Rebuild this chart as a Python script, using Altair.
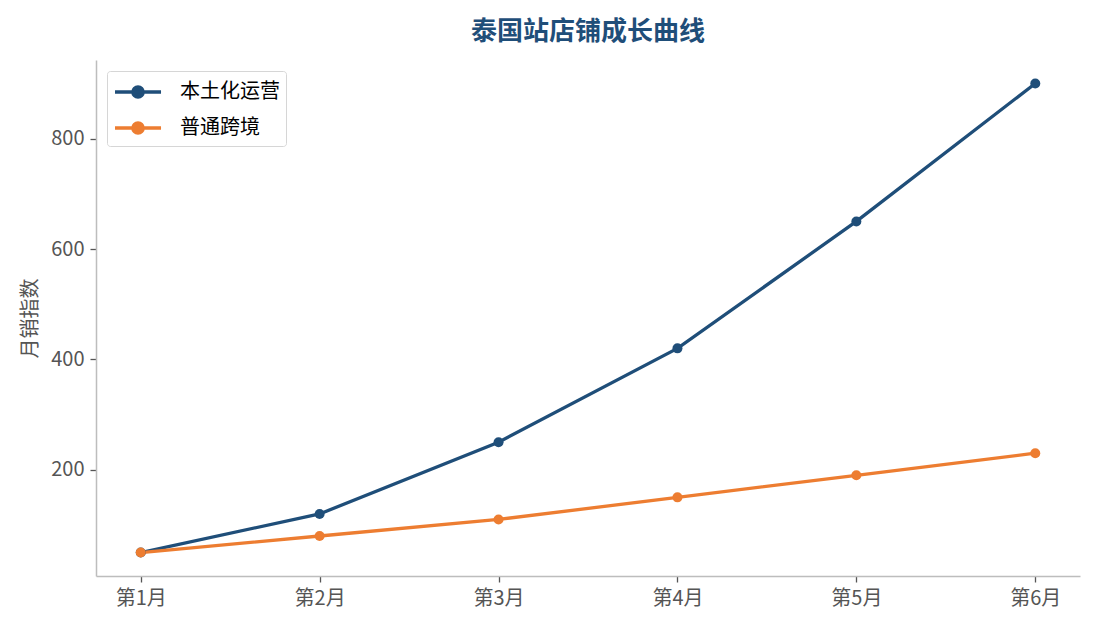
import pandas as pd
import altair as alt

# Chart data
months = ["第1月", "第2月", "第3月", "第4月", "第5月", "第6月"]
local_ops = [50, 120, 250, 420, 650, 900]
cross_border = [50, 80, 110, 150, 190, 230]
series_names = ["本土化运营", "普通跨境"]
series_colors = ["#1f4e79", "#ed7d31"]

df = pd.DataFrame({
    "month": months * 2,
    "value": local_ops + cross_border,
    "series": [series_names[0]] * len(months) + [series_names[1]] * len(months),
})

font = "Noto Sans CJK SC"

# legend symbol: a line with a dot in the middle
legend_symbol = (
    "M-1,0H2.54"
    "M0.37,0A0.4,0.4,0,1,1,1.17,0A0.4,0.4,0,1,1,0.37,0Z"
)

color = alt.Color(
    "series:N",
    scale=alt.Scale(domain=series_names, range=series_colors),
    legend=alt.Legend(
        title=None,
        orient="none",
        legendX=11,
        legendY=11,
        symbolType=legend_symbol,
        symbolSize=676,
        symbolStrokeWidth=3.3,
        labelFont=font,
        labelFontSize=20,
        labelColor="#000000",
        labelOffset=37,
        rowPadding=9,
        padding=6,
        strokeColor="#d6d6d6",
        fillColor="#ffffff",
        cornerRadius=3,
    ),
)

base = alt.Chart(df).encode(
    x=alt.X(
        "month:O",
        sort=months,
        title=None,
        scale=alt.Scale(type="point", padding=0.25),
        axis=alt.Axis(labelAngle=0, labelPadding=6),
    ),
    y=alt.Y(
        "value:Q",
        title="月销指数",
        scale=alt.Scale(domain=[7.5, 942.5], nice=False, zero=False),
        axis=alt.Axis(values=[200, 400, 600, 800], titlePadding=10, labelPadding=6),
    ),
    color=color,
)

lines = base.mark_line(strokeWidth=3.3)
points = base.mark_circle(size=100, opacity=1)

chart = alt.layer(lines, points).properties(
    width=984,
    height=516,
    autosize=alt.AutoSizeParams(type="none"),
    padding={"left": 88, "top": 52, "right": 7, "bottom": 45},
    title=alt.TitleParams(
        "泰国站店铺成长曲线",
        font=font,
        fontSize=26,
        fontWeight="bold",
        color="#1f4e79",
        anchor="middle",
        offset=15,
    ),
).configure_view(
    stroke=None
).configure_axis(
    grid=False,
    domainColor="#bdbdbd",
    domainWidth=1.5,
    tickColor="#555555",
    tickSize=6,
    tickWidth=1.3,
    labelFont=font,
    labelFontSize=20,
    labelColor="#555555",
    titleFont=font,
    titleFontSize=20,
    titleFontWeight="normal",
    titleColor="#555555",
)

chart.save("out.html", embed_options={"renderer": "svg", "actions": False})
